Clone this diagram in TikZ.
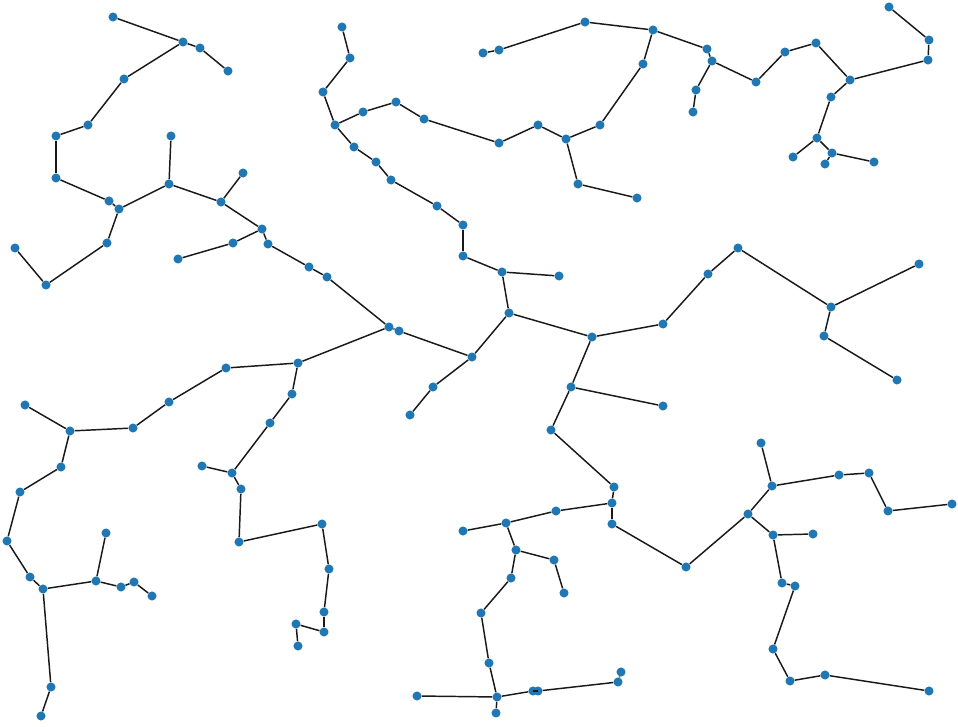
\documentclass[tikz,border=0pt]{standalone}
\definecolor{nodeblue}{RGB}{31,119,180}
\tikzset{
  v/.style={circle,fill=nodeblue,inner sep=0pt,minimum size=6.8pt},
  e/.style={draw=black!90,line width=1.1pt}
}
\begin{document}
\begin{tikzpicture}[x=0.75pt,y=-0.75pt]
\useasboundingbox (0,0) rectangle (958,727);
\foreach \n/\x/\y in {
 a1/113/17,a2/183/42,a3/200/48,a4/228/71,a5/124/79,a6/88/125,a7/56/136,a8/56/178,
 a9/109/201,a10/119/209,a11/171/136,a12/169/184,a13/243/173,a14/221/202,a15/107/243,a16/15/248,
 b1/46/285,b2/178/259,b3/233/243,c1/262/229,c2/268/244,c3/309/267,c4/327/277,c5/389/327,
 c6/399/331,c7/472/357,c8/433/387,c9/410/415,c10/298/363,c11/292/394,c12/270/423,c13/232/473,
 c14/241/489,c15/202/466,
 d1/463/256,d2/502/272,d3/559/276,d4/509/313,d5/592/337,d6/663/324,d7/708/274,d8/571/387,
 d9/663/406,d10/551/430,d11/614/487,
 e1/342/27,e2/350/58,e3/323/92,e4/335/125,e5/363/112,e6/396/102,e7/424/119,e8/354/147,
 e9/376/162,e10/391/180,e11/437/206,e12/463/225,
 f1/483/53,f2/499/50,f3/585/22,f4/653/30,f5/707/49,f5b/712/61,f6/643/64,f7/600/125,f8/566/139,
 f9/538/125,f10/499/143,f11/578/184,f12/637/198,f13/696/90,f14/693/112,
 g1/756/82,g2/785/52,g3/816/43,g4/850/80,g5/889/7,g6/929/40,g7/928/60,g8/831/97,g9/817/138,
 g10/793/157,g11/832/153,g12/825/164,g13/874/162,
 h1/738/248,h2/831/307,h3/919/264,h4/824/336,h5/897/380,h6/761/443,
 i1/772/486,i2/839/475,i3/869/473,i4/888/511,i5/952/504,i6/748/514,i7/773/535,i8/813/534,
 i9/782/583,i10/795/586,i11/773/649,i12/790/681,i13/825/675,i14/929/691,
 j2/612/503,j3/612/524,j4/686/567,j5/556/511,j6/506/523,j7/463/531,j8/516/550,j9/554/560,
 j10/564/593,j11/511/578,j12/481/613,j13/489/663,j14/497/697,j15/496/713,j16/533/691,
 j17/538/691,j18/618/682,j19/621/672,
 k1/239/542,k2/322/524,k3/329/569,k4/324/612,k5/324/632,k6/296/624,k7/298/646,k8/417/696,
 l1/25/405,l2/70/431,l3/133/428,l4/169/402,l5/226/368,l6/61/467,
 m1/20/492,m2/7/541,m3/30/577,m4/43/589,m5/96/581,m6/106/533,m7/121/587,m8/134/582,
 m9/152/596,m10/51/687,m11/41/716}
 {\node[v] (\n) at (\x,\y) {};}
\foreach \p/\q in {
 a1/a2,a2/a3,a3/a4,a2/a5,a5/a6,a6/a7,a7/a8,a8/a9,a9/a10,a10/a15,a10/a12,a12/a11,a12/a14,
 a14/a13,a15/b1,b1/a16,b2/b3,b3/c1,a14/c1,c1/c2,c2/c3,c3/c4,c4/c5,c5/c6,c6/c7,c7/c8,c8/c9,
 c5/c10,c10/l5,c10/c11,c11/c12,c12/c13,c13/c14,c13/c15,c14/k1,k1/k2,k2/k3,k3/k4,k4/k5,k5/k6,k6/k7,
 c7/d4,d1/d2,d2/d3,d2/d4,d4/d5,d5/d6,d6/d7,d5/d8,d8/d9,d8/d10,d10/d11,
 e1/e2,e2/e3,e3/e4,e4/e5,e5/e6,e6/e7,e7/f10,e4/e8,e8/e9,e9/e10,e10/e11,e11/e12,e12/d1,
 f1/f2,f2/f3,f3/f4,f4/f5,f5/f5b,f4/f6,f6/f7,f7/f8,f8/f9,f9/f10,f8/f11,f11/f12,f5b/f13,f13/f14,
 f5b/g1,g1/g2,g2/g3,g3/g4,g4/g7,g7/g6,g6/g5,g4/g8,g8/g9,g9/g10,g9/g11,g11/g12,g11/g13,
 d7/h1,h1/h2,h2/h3,h2/h4,h4/h5,
 h6/i1,i1/i2,i2/i3,i3/i4,i4/i5,i1/i6,i6/i7,i7/i8,i7/i9,i9/i10,i10/i11,i11/i12,i12/i13,i13/i14,
 i6/j4,j4/j3,j3/j2,d11/j2,j2/j5,j5/j6,j6/j7,j6/j8,j8/j9,j9/j10,j8/j11,j11/j12,j12/j13,j13/j14,
 j14/j15,j14/j16,j16/j17,j17/j18,j18/j19,j14/k8,
 l1/l2,l2/l3,l3/l4,l4/l5,l2/l6,l6/m1,m1/m2,m2/m3,m3/m4,m4/m5,m5/m6,m5/m7,m7/m8,m8/m9,
 m4/m10,m10/m11}
 {\path[e] (\p) -- (\q);}
\end{tikzpicture}
\end{document}
